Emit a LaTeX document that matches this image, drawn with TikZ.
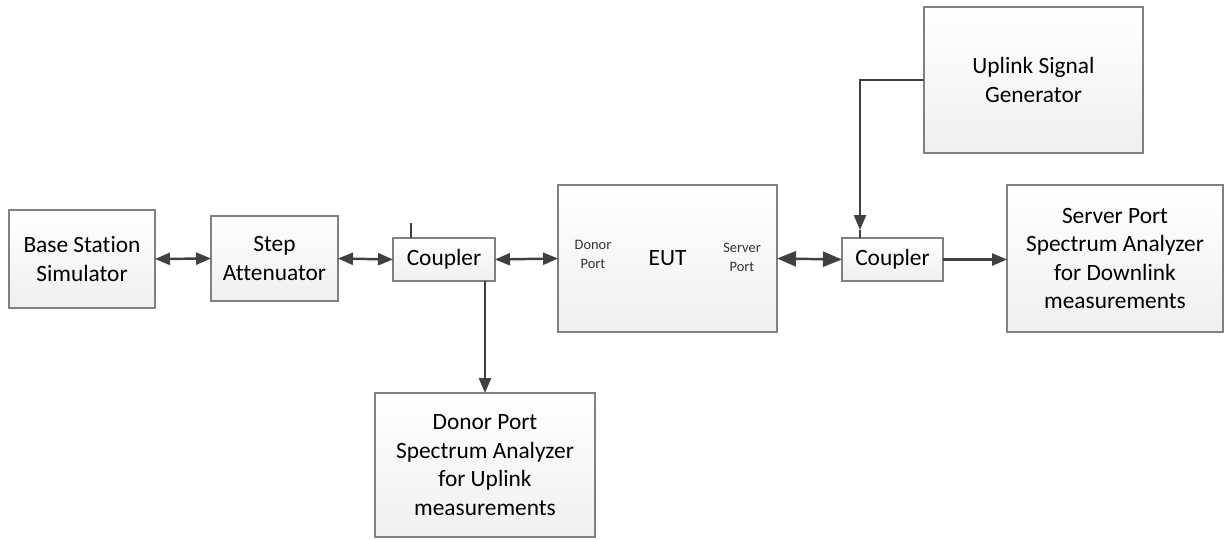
\documentclass[tikz,border=0pt]{standalone}
\usepackage{fontspec}
\setmainfont{Carlito}[Ligatures=NoCommon]
\usetikzlibrary{arrows.meta}

\begin{document}
\begin{tikzpicture}[x=0.02cm, y=-0.02cm,
        box/.style={draw=black!50, line width=0.8pt, top color=white, bottom color=black!6,
            inner sep=0pt, outer sep=0pt, align=center,
            font=\fontsize{13.3}{16.2}\selectfont},
        portlbl/.style={inner sep=0pt, align=center, text=black!80,
            font=\fontsize{8.2}{10.8}\selectfont},
        link/.style={draw=black!75, line width=1.4pt},
        dbl/.style={link, {Triangle[length=0.3cm, width=0.24cm]}-{Triangle[length=0.3cm, width=0.24cm]}},
        dblbig/.style={link, {Triangle[length=0.38cm, width=0.3cm]}-{Triangle[length=0.38cm, width=0.3cm]}},
        sgl/.style={link, -{Triangle[length=0.3cm, width=0.24cm]}}]
        \useasboundingbox (0, 0) rectangle (1225, 540);

        \node[box, minimum width=2.92cm, minimum height=1.96cm] (bss) at (82, 259) {Base Station\\Simulator};
        \node[box, minimum width=2.54cm, minimum height=1.70cm] (att) at (274.5, 258.5) {Step\\Attenuator};
        \node[box, minimum width=2.04cm, minimum height=0.86cm] (cplA) at (444, 259.5) {Coupler};
        \node[box, minimum width=4.38cm, minimum height=2.94cm] (eut) at (667.5, 258.5) {EUT};
        \node[box, minimum width=2.02cm, minimum height=0.86cm] (cplB) at (892.5, 259.5) {Coupler};
        \node[box, minimum width=4.32cm, minimum height=2.94cm] (srvsa) at (1115, 258.5) {Server Port\\Spectrum Analyzer\\for Downlink\\measurements};
        \node[box, minimum width=4.38cm, minimum height=2.92cm] (gen) at (1033.5, 80) {Uplink Signal\\Generator};
        \node[box, minimum width=4.40cm, minimum height=2.88cm] (donsa) at (485, 465) {Donor Port\\Spectrum Analyzer\\for Uplink\\measurements};

        \node[portlbl] (donlbl) at (593, 254) {Donor\\Port};
        \node[portlbl] (srvlbl) at (742, 257) {Server\\Port};

        \draw[dbl] (bss.east) -- (att.west);
        \draw[dbl] (att.east) -- (cplA.west);
        \draw[dbl] (cplA.east) -- (eut.west);
        \draw[dblbig] (eut.east) -- (cplB.west);
        \draw[sgl] (cplB.east) -- (cplB.east -| srvsa.west);
        \draw[sgl] (cplA.south -| donsa.north) -- (donsa.north);
        \draw[sgl] (gen.west) -| ([xshift=0.36cm, yshift=0.16cm]cplB.north west);
        \draw[link] ([xshift=0.36cm]cplB.north west) -- ++(0, -8);
        \draw[link, line width=0.6pt] ([xshift=0.36cm]cplA.north west) -- ++(0, -15);

    \end{tikzpicture}
\end{document}
